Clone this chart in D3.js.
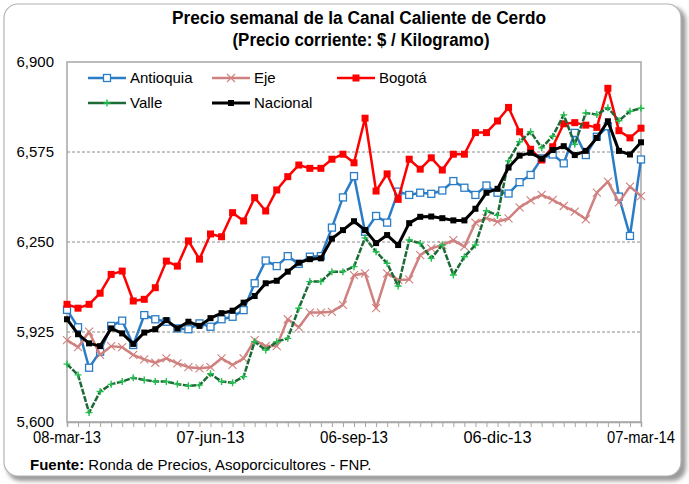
<!DOCTYPE html>
<html>
<head>
<meta charset="utf-8">
<script src="https://cdn.jsdelivr.net/npm/d3@7"></script>
<style>
	body { margin: 0; background: #ffffff; }
	text { font-family: "Liberation Sans Narrow", "Arial Narrow", "Liberation Sans", Arial, sans-serif; fill: #000; }
</style>
</head>
<body>
<div id="chart"></div>
<script>
// weekly prices, 08-mar-13 .. 07-mar-14
var antioquia = [6005,5942,5796,5854,5947,5966,5878,5986,5971,5962,5938,5935,5956,5944,5971,5980,6004,6101,6183,6163,6199,6171,6197,6199,6302,6411,6488,6287,6344,6320,6432,6420,6428,6424,6436,6470,6446,6420,6454,6428,6425,6466,6492,6552,6566,6534,6644,6564,6630,6668,6414,6272,6548];
var eje = [5896,5870,5926,5842,5874,5870,5842,5826,5814,5830,5812,5798,5794,5798,5830,5806,5830,5896,5874,5874,5971,5942,5995,5995,5998,6023,6130,6137,6011,6137,6113,6115,6203,6227,6239,6257,6233,6320,6336,6323,6335,6375,6400,6420,6402,6380,6360,6332,6428,6468,6393,6450,6416];
var bogota = [6025,6011,6025,6065,6133,6145,6037,6043,6085,6181,6163,6254,6188,6279,6269,6356,6326,6410,6362,6438,6486,6528,6516,6516,6549,6567,6536,6697,6434,6496,6404,6549,6513,6554,6510,6567,6567,6645,6645,6687,6736,6648,6585,6546,6594,6677,6681,6672,6664,6805,6652,6626,6661];
var valle = [5809,5770,5634,5710,5736,5746,5760,5752,5746,5746,5737,5731,5733,5774,5746,5742,5764,5890,5860,5890,5902,6011,6107,6107,6143,6143,6161,6265,6215,6173,6091,6257,6245,6191,6239,6131,6197,6239,6363,6346,6543,6612,6648,6590,6632,6709,6603,6716,6710,6735,6688,6722,6733];
var nacional = [5971,5917,5884,5874,5938,5920,5882,5923,5935,5968,5938,5962,5947,5975,5993,6002,6031,6055,6101,6110,6143,6175,6188,6191,6262,6293,6325,6293,6246,6275,6239,6318,6341,6342,6336,6328,6328,6370,6428,6442,6519,6562,6572,6551,6582,6596,6564,6579,6626,6686,6579,6566,6610];

var tickLabels = ["08-mar-13", "07-jun-13", "06-sep-13", "06-dic-13", "07-mar-14"];
var tickIndex = [0, 13, 26, 39, 52];
var yTicks = [5600, 5925, 6250, 6575, 6900];

var _width = 689,
	_height = 484;

var plot = {
	left: 67,
	right: 641,
	top: 62,
	bottom: 422
};

var series = [
	{ name: "Antioquia", values: antioquia, color: "#2a7cc6", marker: "open" },
	{ name: "Eje", values: eje, color: "#d0807e", marker: "cross" },
	{ name: "Bogotá", values: bogota, color: "#ff0000", marker: "square" },
	{ name: "Valle", values: valle, color: "#1c6a36", marker: "plus" },
	{ name: "Nacional", values: nacional, color: "#000000", marker: "small" }
];

var svg = d3.select("#chart").append("svg")
	.attr("width", _width)
	.attr("height", _height);

var defs = svg.append("defs");
var blur = defs.append("filter").attr("id", "shadow")
	.attr("x", "-5%").attr("y", "-5%").attr("width", "110%").attr("height", "110%");
blur.append("feGaussianBlur").attr("stdDeviation", 2);

// frame with shadow
svg.append("rect")
	.attr("x", 7).attr("y", 7)
	.attr("width", 679).attr("height", 474)
	.attr("rx", 14)
	.attr("fill", "#9a9a9a")
	.attr("filter", "url(#shadow)");
svg.append("rect")
	.attr("x", 4).attr("y", 4)
	.attr("width", 677).attr("height", 472)
	.attr("rx", 14)
	.attr("fill", "#ffffff")
	.attr("stroke", "#b4b4b4")
	.attr("stroke-width", 1.2);

var x = d3.scaleLinear()
	.domain([0, antioquia.length - 1])
	.range([plot.left, plot.right]);

var y = d3.scaleLinear()
	.domain([5600, 6900])
	.range([plot.bottom, plot.top]);

// gridlines
svg.selectAll("line.grid")
	.data(yTicks.slice(1, -1))
	.enter()
	.append("line")
	.attr("class", "grid")
	.attr("x1", plot.left).attr("x2", plot.right)
	.attr("y1", function(d) { return y(d); })
	.attr("y2", function(d) { return y(d); })
	.attr("stroke", "#8c8c8c")
	.attr("stroke-width", 1)
	.attr("stroke-dasharray", "3,2");

// plot border
svg.append("rect")
	.attr("x", plot.left).attr("y", plot.top)
	.attr("width", plot.right - plot.left)
	.attr("height", plot.bottom - plot.top)
	.attr("fill", "none")
	.attr("stroke", "#a6a6a6")
	.attr("stroke-width", 1.5);

// x axis: a tick on every week
var xAxis = d3.axisBottom(x)
	.tickValues(d3.range(antioquia.length))
	.tickSize(5)
	.tickFormat("");
var gx = svg.append("g")
	.attr("transform", "translate(0," + plot.bottom + ")")
	.call(xAxis);
gx.select(".domain").attr("stroke", "#a6a6a6").attr("stroke-width", 1.5);
gx.selectAll(".tick line").attr("stroke", "#a6a6a6");

svg.selectAll("text.xlab")
	.data(tickIndex)
	.enter()
	.append("text")
	.attr("class", "xlab")
	.attr("x", function(d) { return x(d); })
	.attr("y", 443)
	.attr("text-anchor", "middle")
	.attr("font-size", 16)
	.attr("textLength", 68)
	.attr("lengthAdjust", "spacingAndGlyphs")
	.text(function(d, i) { return tickLabels[i]; });

// y axis labels
var yAxis = d3.axisLeft(y)
	.tickValues(yTicks)
	.tickSize(0)
	.tickPadding(13)
	.tickFormat(d3.format(","));
var gy = svg.append("g")
	.attr("transform", "translate(" + plot.left + ",0)")
	.call(yAxis);
gy.select(".domain").remove();
gy.selectAll("text")
	.attr("font-size", 15)
	.attr("font-family", null)
	.attr("fill", "#000");

// lines
var line = d3.line()
	.x(function(d, i) { return x(i); })
	.y(function(d) { return y(d); });

function drawMarker(g, kind, color, cx, cy) {
	if (kind === "open") {
		g.append("rect")
			.attr("x", cx - 3.5).attr("y", cy - 3.5)
			.attr("width", 7).attr("height", 7)
			.attr("fill", "#fff")
			.attr("stroke", color)
			.attr("stroke-width", 1.3);
	} else if (kind === "square") {
		g.append("rect")
			.attr("x", cx - 3.5).attr("y", cy - 3.5)
			.attr("width", 7).attr("height", 7)
			.attr("fill", color);
	} else if (kind === "small") {
		g.append("rect")
			.attr("x", cx - 3).attr("y", cy - 3)
			.attr("width", 6).attr("height", 6)
			.attr("fill", color);
	} else if (kind === "cross") {
		g.append("path")
			.attr("d", "M" + (cx - 4) + "," + (cy - 4) + "L" + (cx + 4) + "," + (cy + 4) +
				"M" + (cx - 4) + "," + (cy + 4) + "L" + (cx + 4) + "," + (cy - 4))
			.attr("stroke", color)
			.attr("stroke-width", 1.1)
			.attr("fill", "none");
	} else if (kind === "plus") {
		g.append("path")
			.attr("d", "M" + (cx - 3.5) + "," + cy + "L" + (cx + 3.5) + "," + cy +
				"M" + cx + "," + (cy - 3.5) + "L" + cx + "," + (cy + 3.5))
			.attr("stroke", "#22c04e")
			.attr("stroke-width", 1.4)
			.attr("fill", "none");
	}
}

series.forEach(function(s) {
	var g = svg.append("g");
	g.append("path")
		.datum(s.values)
		.attr("d", line)
		.attr("fill", "none")
		.attr("stroke", s.color)
		.attr("stroke-width", s.name === "Nacional" ? 3 : 2.5)
		.attr("stroke-linejoin", "round")
		.attr("stroke-dasharray", s.name === "Valle" ? "6,1.5" : null);
	s.values.forEach(function(v, i) {
		drawMarker(g, s.marker, s.color, x(i), y(v));
	});
});

// legend
var legendPos = [
	{ x: 88, y: 78 },
	{ x: 212, y: 78 },
	{ x: 337, y: 78 },
	{ x: 88, y: 103 },
	{ x: 212, y: 103 }
];
series.forEach(function(s, i) {
	var p = legendPos[i];
	var g = svg.append("g");
	g.append("line")
		.attr("x1", p.x).attr("x2", p.x + 38)
		.attr("y1", p.y).attr("y2", p.y)
		.attr("stroke", s.color)
		.attr("stroke-width", s.name === "Nacional" ? 3 : 2.5);
	drawMarker(g, s.marker, s.color, p.x + 19, p.y);
	g.append("text")
		.attr("x", p.x + 42)
		.attr("y", p.y + 5)
		.attr("font-size", 15)
		.text(s.name);
});

// title
svg.append("text")
	.attr("x", 359).attr("y", 24)
	.attr("text-anchor", "middle")
	.attr("font-size", 18)
	.attr("font-weight", "bold")
	.attr("textLength", 374)
	.attr("lengthAdjust", "spacingAndGlyphs")
	.text("Precio semanal de la Canal Caliente de Cerdo");
svg.append("text")
	.attr("x", 361).attr("y", 46)
	.attr("text-anchor", "middle")
	.attr("font-size", 18)
	.attr("font-weight", "bold")
	.attr("textLength", 257)
	.attr("lengthAdjust", "spacingAndGlyphs")
	.text("(Precio corriente: $ / Kilogramo)");

// source
var src = svg.append("text")
	.attr("x", 30).attr("y", 470)
	.attr("font-size", 15);
src.append("tspan").attr("font-weight", "bold").text("Fuente: ");
src.append("tspan").text("Ronda de Precios, Asoporcicultores  - FNP.");
</script>
</body>
</html>
